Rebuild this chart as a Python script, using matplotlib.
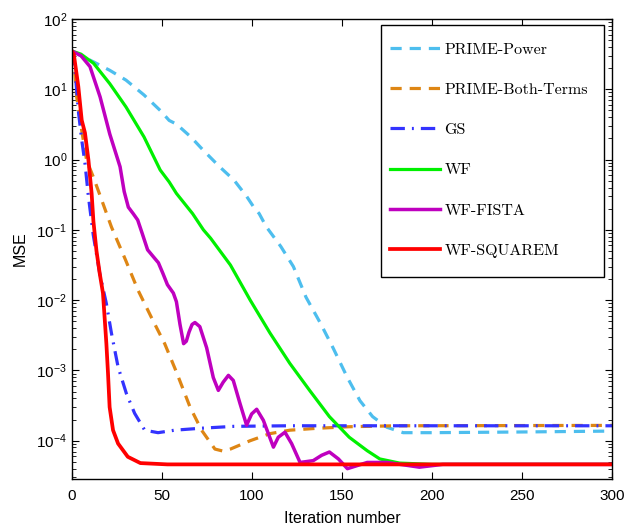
import numpy as np
import matplotlib
matplotlib.use("Agg")
import matplotlib.pyplot as plt
from matplotlib.patches import Rectangle
from matplotlib.ticker import LogLocator, NullFormatter

# ---------------- data ----------------
pp_iter = [0, 5, 12, 21, 30, 40, 49, 54, 58, 66, 73, 82, 90, 97, 101, 104, 108, 116,
           123, 130, 138, 145, 153, 160, 167, 175, 184, 200, 250, 300]
pp_mse = [35, 30, 24.5, 18.6, 13.5, 8.3, 5.0, 3.6, 3.2, 2.1, 1.35, 0.79, 0.51, 0.30,
          0.21, 0.17, 0.11, 0.058, 0.030, 0.011, 4.7e-3, 2.1e-3, 7.9e-4, 3.7e-4,
          2.2e-4, 1.55e-4, 1.3e-4, 1.3e-4, 1.33e-4, 1.37e-4]

pbt_iter = [0, 1.1, 2.6, 5.4, 8.1, 11.9, 16.4, 21.9, 29.8, 36.7, 44, 51.5, 58, 65.6,
            72, 79.4, 84, 88, 99, 110, 121, 136, 154, 180, 300]
pbt_mse = [33, 26, 7.8, 2.6, 0.98, 0.56, 0.27, 0.11, 0.037, 0.0138, 5.75e-3, 2.4e-3,
           9.5e-4, 3.0e-4, 1.41e-4, 7.6e-5, 7.1e-5, 7.6e-5, 1.0e-4, 1.26e-4,
           1.41e-4, 1.5e-4, 1.58e-4, 1.63e-4, 1.65e-4]

gs_iter = [0, 1.7, 3.5, 5.4, 7.2, 9.1, 11.8, 15.4, 19.1, 21.9, 25.6, 30.2, 34.8, 40.4,
           47.8, 57, 71, 90, 120, 300]
gs_mse = [35, 18.6, 5.0, 1.9, 0.89, 0.30, 0.085, 0.024, 8.9e-3, 3.4e-3, 1.12e-3,
          4.7e-4, 2.45e-4, 1.41e-4, 1.3e-4, 1.41e-4, 1.5e-4, 1.6e-4, 1.63e-4, 1.63e-4]

wf_iter = [0, 5, 12, 21, 30, 40, 49, 54, 58, 67, 73, 77, 88, 99, 110, 121, 132, 143,
           154, 164, 171, 182, 200, 250, 300]
wf_mse = [35, 31.6, 23.4, 12, 5.6, 2.1, 0.71, 0.48, 0.33, 0.17, 0.10, 0.076, 0.0316,
          0.01, 3.4e-3, 1.26e-3, 5.2e-4, 2.2e-4, 1.12e-4, 7.2e-5, 5.5e-5, 4.8e-5,
          4.6e-5, 4.6e-5, 4.6e-5]

fista_iter = [0, 5, 10, 15.6, 21, 26.7, 29, 31.3, 34, 36.5, 39, 42, 45, 48, 50.5, 53,
              56.3, 58, 60, 62, 63.5, 65, 66.7, 68.3, 71, 74.8, 78.5, 81.3, 84, 86.9,
              89.6, 93.3, 97, 99.8, 102.6, 106.3, 111.9, 114.6, 118.3, 122, 126.7,
              134, 138.7, 143, 148, 153, 164, 175, 193, 206, 250, 300]
fista_mse = [35, 30, 21, 7.8, 2.3, 0.79, 0.35, 0.21, 0.17, 0.138, 0.089, 0.052, 0.042,
             0.034, 0.024, 0.0166, 0.0126, 9.5e-3, 4.5e-3, 2.4e-3, 2.6e-3, 3.5e-3,
             4.5e-3, 4.8e-3, 4.2e-3, 2.1e-3, 7.9e-4, 5.2e-4, 6.8e-4, 8.5e-4, 7.2e-4,
             3.4e-4, 1.66e-4, 2.4e-4, 2.8e-4, 1.95e-4, 8.1e-5, 1.12e-4, 1.32e-4,
             9.1e-5, 4.9e-5, 5.2e-5, 6.2e-5, 6.9e-5, 5.5e-5, 4.0e-5, 4.9e-5, 4.9e-5,
             4.2e-5, 4.6e-5, 4.6e-5, 4.6e-5]

sq_iter = [0, 1, 3.5, 5.4, 7.2, 9.1, 10.9, 11.9, 13.6, 15.4, 17.2, 18.1, 19.1, 20,
           20.9, 22.8, 25.6, 31, 38, 53, 100, 150, 200, 250, 300]
sq_mse = [34.7, 31.6, 11.0, 3.63, 2.40, 1.0, 0.331, 0.132, 0.0501, 0.024, 0.0126,
          5.75e-3, 2.4e-3, 9.1e-4, 3.0e-4, 1.41e-4, 9.1e-5, 5.9e-5, 4.8e-5, 4.6e-5,
          4.6e-5, 4.6e-5, 4.6e-5, 4.6e-5, 4.6e-5]

labels = ["PRIME-Power", "PRIME-Both-Terms", "GS", "WF", "WF-FISTA", "WF-SQUAREM"]
x_ticks = [0, 50, 100, 150, 200, 250, 300]
y_ticks = [1e-4, 1e-3, 1e-2, 1e-1, 1e0, 1e1, 1e2]

# ---------------- plotting ----------------
plt.rcParams["font.family"] = ["Liberation Sans", "DejaVu Sans"]
plt.rcParams["mathtext.default"] = "regular"

fig = plt.figure(figsize=(6.24, 5.29), dpi=100)
ax = fig.add_axes([72 / 624, 50 / 529, 540 / 624, 460 / 529])

series = [
    (pp_iter, pp_mse, dict(color="#4DBEEE", lw=2.3, ls=(0, (3.5, 2.5)))),
    (pbt_iter, pbt_mse, dict(color="#DE8614", lw=2.3, ls=(0, (3.5, 2.5)))),
    (gs_iter, gs_mse, dict(color="#3333FF", lw=2.3, ls=(0, (4.5, 2.2, 0.6, 2.2)))),
    (wf_iter, wf_mse, dict(color="#00F000", lw=2.3, ls="-")),
    (fista_iter, fista_mse, dict(color="#BF00BF", lw=2.5, ls="-")),
    (sq_iter, sq_mse, dict(color="#FF0000", lw=2.7, ls="-")),
]
for (xi, yi, st), lab in zip(series, labels):
    ax.plot(xi, yi, label=lab, **st)

ax.set_yscale("log")
ax.set_xlim(0, 300)
ax.set_ylim(2.85e-5, 100)
ax.set_xticks(x_ticks)
ax.set_yticks(y_ticks)
ax.yaxis.set_minor_locator(LogLocator(base=10, subs=np.arange(2, 10)))
ax.yaxis.set_minor_formatter(NullFormatter())
ax.tick_params(which="both", direction="in", top=True, right=True, labelsize=11)
ax.tick_params(which="major", length=5, width=0.8)
ax.tick_params(which="minor", length=3, width=0.6)
ax.tick_params(axis="x", pad=7)
for s in ax.spines.values():
    s.set_linewidth(1.0)

ax.set_xlabel("Iteration number", fontsize=11.5, labelpad=6)
ax.set_ylabel("MSE", fontsize=11.5, labelpad=6)

# legend frame drawn as its own box
frame = Rectangle((0.5722, 0.4391), 0.9852 - 0.5722, 0.98696 - 0.4391,
                  transform=ax.transAxes, facecolor="white", edgecolor="black",
                  lw=1.0, zorder=5)
ax.add_patch(frame)
leg = ax.legend(loc="upper left", bbox_to_anchor=(0.5889, 0.949),
                prop=dict(family="cmr10", size=11.5),
                frameon=False, handlelength=3.1, handletextpad=0.3,
                labelspacing=1.63, borderpad=0.0, borderaxespad=0.0)
leg.set_zorder(6)

fig.savefig("out.png", dpi=100)
